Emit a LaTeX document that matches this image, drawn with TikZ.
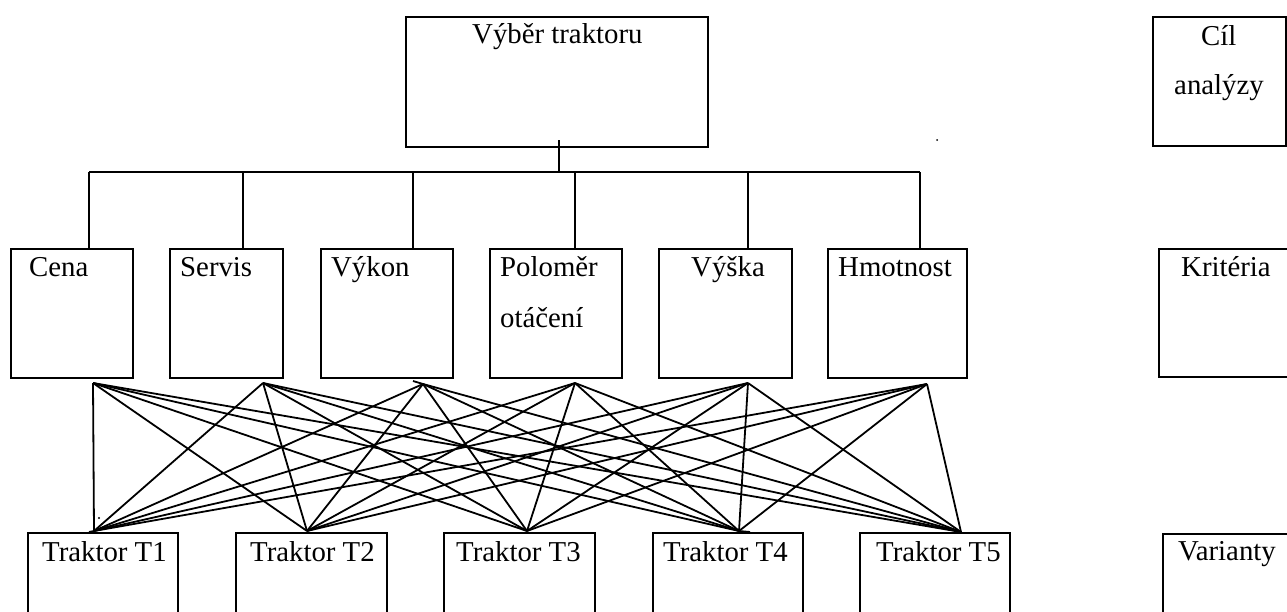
\documentclass[tikz,border=0pt]{standalone}
\usepackage{fontspec}
\setmainfont{Liberation Serif}
\usetikzlibrary{fit,calc}
\begin{document}
\begin{tikzpicture}[x=1pt,y=-1pt,
  box/.style={draw,line width=2pt,inner sep=0pt,outer sep=0pt,rectangle},
  lbl/.style={anchor=base west,inner sep=0pt,font=\fontsize{28.8pt}{34pt}\selectfont},
  wire/.style={line width=1.9pt},
  link/.style={line width=1.8pt,line join=round}]
\useasboundingbox (0,0) rectangle (1287,611);
% top goal box
\node[box,fit={(406,17) (708,147)}] (goal) {};
\node[lbl] (goalT) at (472,43) {Výběr traktoru};
% criteria boxes
\node[box,fit={(11,249) (133,378)}] (k1) {};
\node[box,fit={(170,249) (283,378)}] (k2) {};
\node[box,fit={(321,249) (453,378)}] (k3) {};
\node[box,fit={(490,249) (622,378)}] (k4) {};
\node[box,fit={(659,249) (792,378)}] (k5) {};
\node[box,fit={(828,249) (967,378)}] (k6) {};
\node[lbl] (k1T) at (29,276) {Cena};
\node[lbl] (k2T) at (180,276) {Servis};
\node[lbl] (k3T) at (331,276) {Výkon};
\node[lbl] (k4T) at (500,276) {Poloměr};
\node[lbl] (k4U) at (500,327) {otáčení};
\node[lbl] (k5T) at (691,276) {Výška};
\node[lbl] (k6T) at (838,276) {Hmotnost};
% tractor boxes
\node[box,fit={(28,533) (178,640)}] (t1) {};
\node[box,fit={(236,533) (387,640)}] (t2) {};
\node[box,fit={(444,533) (595,640)}] (t3) {};
\node[box,fit={(653,533) (803,640)}] (t4) {};
\node[box,fit={(860,533) (1010,640)}] (t5) {};
\node[lbl] (t1T) at (42,561) {Traktor T1};
\node[lbl] (t2T) at (250,561) {Traktor T2};
\node[lbl] (t3T) at (456,561) {Traktor T3};
\node[lbl] (t4T) at (663,561) {Traktor T4};
\node[lbl] (t5T) at (876,561) {Traktor T5};
% legend boxes on the right
\node[box,fit={(1153,17) (1285.5,146)}] (cil) {};
\node[lbl] (cilT) at (1201,45) {Cíl};
\node[lbl] (cilU) at (1174,94) {analýzy};
\node[box,fit={(1159,249) (1300,377)}] (krit) {};
\node[lbl] (kritT) at (1181,276) {Kritéria};
\node[box,fit={(1163,534) (1300,640)}] (var) {};
\node[lbl] (varT) at (1178,560) {Varianty};
% tree connectors
\coordinate (g0) at (559,140);
\coordinate (g1) at (559,172);
\coordinate (b1) at (89,172);
\coordinate (b2) at (243,172);
\coordinate (b3) at (413,172);
\coordinate (b4) at (575,172);
\coordinate (b5) at (748,172);
\coordinate (b6) at (920,172);
\draw[wire] (g0) -- (g1);
\draw[wire] (b1) -- (b6);
\foreach \i in {1,...,6}{
  \draw[wire] (b\i) -- (b\i |- k\i.north);
}
% criterion and variant apexes
\coordinate (c1) at (93,383);
\coordinate (c2) at (263,383);
\coordinate (c3) at (423,384);
\coordinate (c4) at (575,383);
\coordinate (c5) at (748,383);
\coordinate (c6) at (927,384);
\coordinate (v1) at (94,531);
\coordinate (v2) at (307,531);
\coordinate (v3) at (527,531);
\coordinate (v4) at (739,531);
\coordinate (v5) at (961,532);
\foreach \i in {1,...,6}{
  \foreach \j in {1,...,5}{
    \draw[link] (c\i) -- (v\j);
  }
}
% small stray marks
\coordinate (s1) at (413,381);
\coordinate (s2) at (750,532);
\coordinate (s3) at (89,532);
\draw[link] (s1) -- (c3);
\draw[link] (v4) -- (s2);
\draw[link] (s3) -- (v1);
\fill (99,518) circle (1.2pt);
\fill (937,140) circle (1pt);
\end{tikzpicture}
\end{document}
